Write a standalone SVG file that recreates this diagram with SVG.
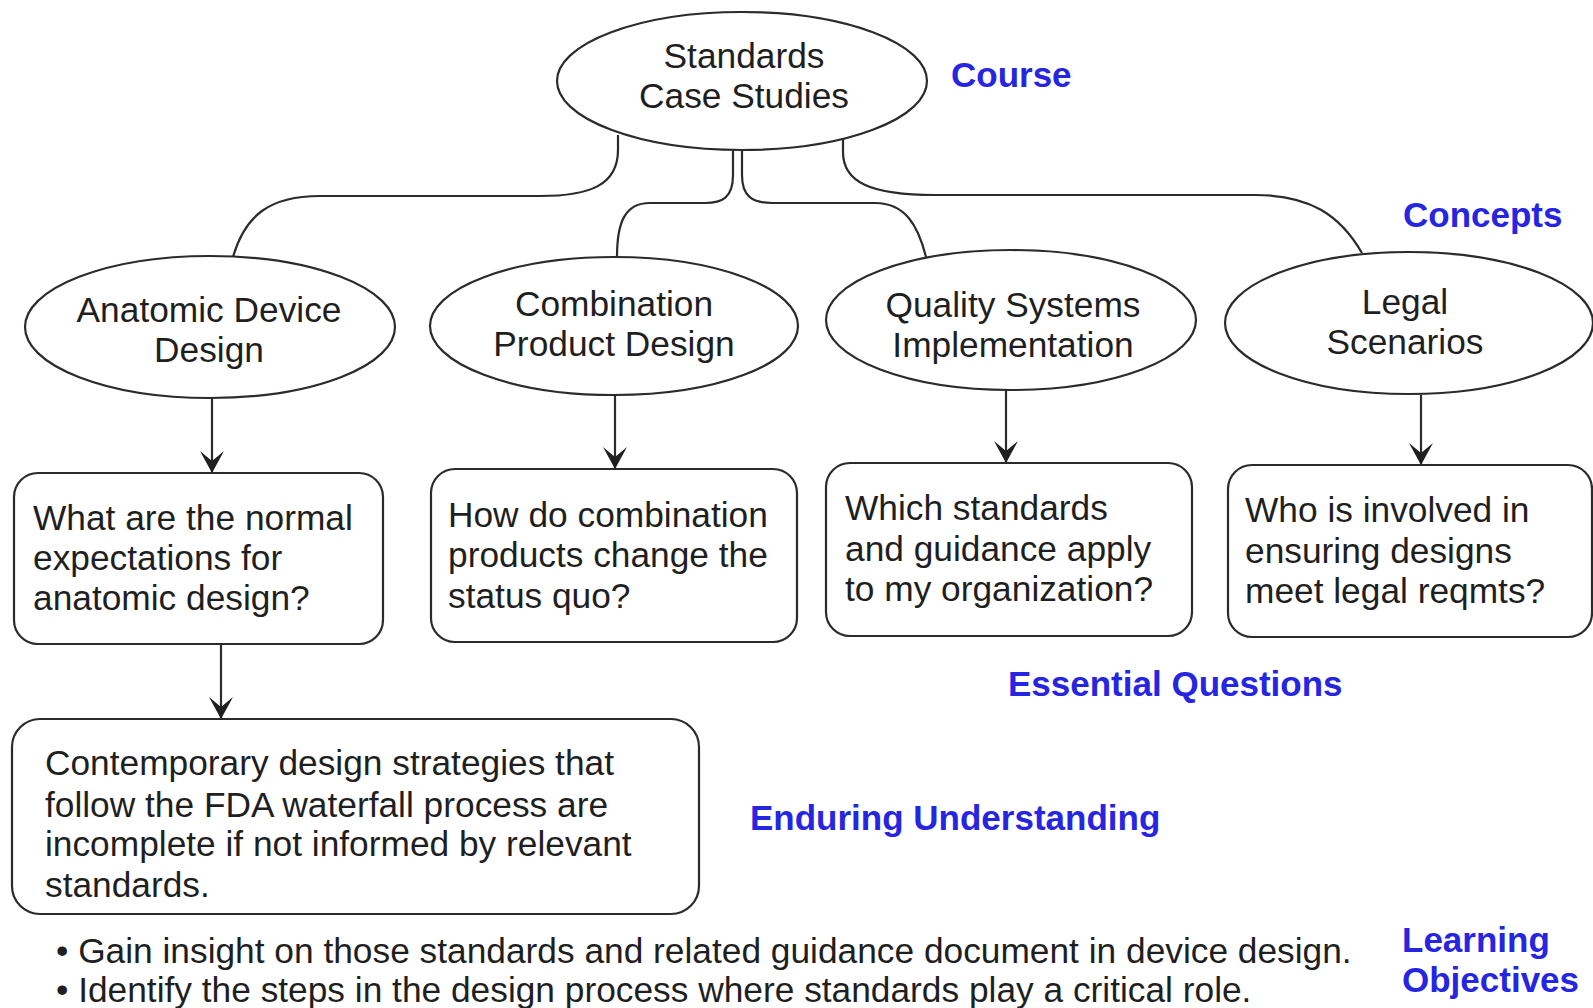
<svg xmlns="http://www.w3.org/2000/svg" width="1593" height="1008" viewBox="0 0 1593 1008">
  <style>
    .shape { fill: #ffffff; stroke: #2b2b2b; stroke-width: 2.2; }
    .link { fill: none; stroke: #2b2b2b; stroke-width: 2.2; }
    .t { font-family: "Liberation Sans", Arial, sans-serif; font-size: 35.3px; fill: #1f1f1f; }
    .c { text-anchor: middle; }
    .lbl { font-family: "Liberation Sans", Arial, sans-serif; font-size: 35px; font-weight: bold; fill: #2626e2; }
  </style>
  <defs>
    <marker id="arrow" markerUnits="userSpaceOnUse" markerWidth="28" markerHeight="28" viewBox="-26 -14 28 28" refX="0" refY="0" orient="auto">
      <path d="M0,0 L-22,-12 L-12,0 L-22,12 Z" fill="#1f1f1f"/>
    </marker>
  </defs>
  <rect width="1593" height="1008" fill="#ffffff"/>

  <!-- connectors -->
  <g id="connectors">
    <path class="link" d="M618,135 L618,150 C618,185 590,196 540,196 L320,196 C270,196 245,215 233,257"/>
    <path class="link" d="M733,150 L733,175 C733,198 722,203 705,203 L650,203 C625,203 617,222 617,257"/>
    <path class="link" d="M742,150 L742,175 C742,196 752,203 772,203 L875,203 C905,203 918,225 926,257"/>
    <path class="link" d="M843,138 L843,152 C843,182 870,195 935,195 L1255,195 C1310,195 1340,215 1362,253"/>
    <path class="link" d="M212,398 L212,473" marker-end="url(#arrow)"/>
    <path class="link" d="M615,395 L615,469" marker-end="url(#arrow)"/>
    <path class="link" d="M1006,390 L1006,463" marker-end="url(#arrow)"/>
    <path class="link" d="M1421,395 L1421,465" marker-end="url(#arrow)"/>
    <path class="link" d="M221,644 L221,719" marker-end="url(#arrow)"/>
  </g>

  <!-- course -->
  <g id="course">
    <ellipse class="shape" cx="742" cy="81" rx="185" ry="69"/>
    <text class="t c" x="744" y="68">Standards</text>
    <text class="t c" x="744" y="108">Case Studies</text>
  </g>

  <!-- concepts -->
  <g id="concept-anatomic">
    <ellipse class="shape" cx="210" cy="327" rx="185" ry="71"/>
    <text class="t c" x="209" y="322">Anatomic Device</text>
    <text class="t c" x="209" y="362">Design</text>
  </g>
  <g id="concept-combination">
    <ellipse class="shape" cx="614" cy="326" rx="184" ry="69"/>
    <text class="t c" x="614" y="316">Combination</text>
    <text class="t c" x="614" y="356">Product Design</text>
  </g>
  <g id="concept-quality">
    <ellipse class="shape" cx="1011" cy="320" rx="185" ry="70"/>
    <text class="t c" x="1013" y="317">Quality Systems</text>
    <text class="t c" x="1013" y="357">Implementation</text>
  </g>
  <g id="concept-legal">
    <ellipse class="shape" cx="1409" cy="323" rx="184" ry="71"/>
    <text class="t c" x="1405" y="314">Legal</text>
    <text class="t c" x="1405" y="354">Scenarios</text>
  </g>

  <!-- essential questions -->
  <g id="question-anatomic">
    <rect class="shape" x="14" y="473" width="369" height="171" rx="24" ry="24"/>
    <text class="t" x="33" y="530">What are the normal</text>
    <text class="t" x="33" y="570">expectations for</text>
    <text class="t" x="33" y="610">anatomic design?</text>
  </g>
  <g id="question-combination">
    <rect class="shape" x="431" y="469" width="366" height="173" rx="24" ry="24"/>
    <text class="t" x="448" y="527">How do combination</text>
    <text class="t" x="448" y="567">products change the</text>
    <text class="t" x="448" y="608">status quo?</text>
  </g>
  <g id="question-quality">
    <rect class="shape" x="826" y="463" width="366" height="173" rx="24" ry="24"/>
    <text class="t" x="845" y="520">Which standards</text>
    <text class="t" x="845" y="561">and guidance apply</text>
    <text class="t" x="845" y="601">to my organization?</text>
  </g>
  <g id="question-legal">
    <rect class="shape" x="1228" y="465" width="364" height="172" rx="24" ry="24"/>
    <text class="t" x="1245" y="522">Who is involved  in</text>
    <text class="t" x="1245" y="563">ensuring designs</text>
    <text class="t" x="1245" y="603">meet legal reqmts?</text>
  </g>

  <!-- enduring understanding -->
  <g id="understanding">
    <rect class="shape" x="12" y="719" width="687" height="195" rx="28" ry="28"/>
    <text class="t" x="45" y="775">Contemporary design strategies that</text>
    <text class="t" x="45" y="817">follow the FDA waterfall process are</text>
    <text class="t" x="45" y="856">incomplete if not informed by relevant</text>
    <text class="t" x="45" y="897">standards.</text>
  </g>

  <!-- learning objectives -->
  <g id="objectives">
    <text class="t" x="56" y="963">• Gain insight on those standards and related guidance document in device design.</text>
    <text class="t" x="56" y="1002">• Identify the steps in the design process where standards play a critical role.</text>
  </g>

  <!-- level labels -->
  <g id="labels">
    <text class="lbl" x="951" y="87">Course</text>
    <text class="lbl" x="1403" y="227">Concepts</text>
    <text class="lbl" x="1008" y="696">Essential Questions</text>
    <text class="lbl" x="750" y="830">Enduring Understanding</text>
    <text class="lbl" x="1402" y="952">Learning</text>
    <text class="lbl" x="1402" y="992">Objectives</text>
  </g>
</svg>
